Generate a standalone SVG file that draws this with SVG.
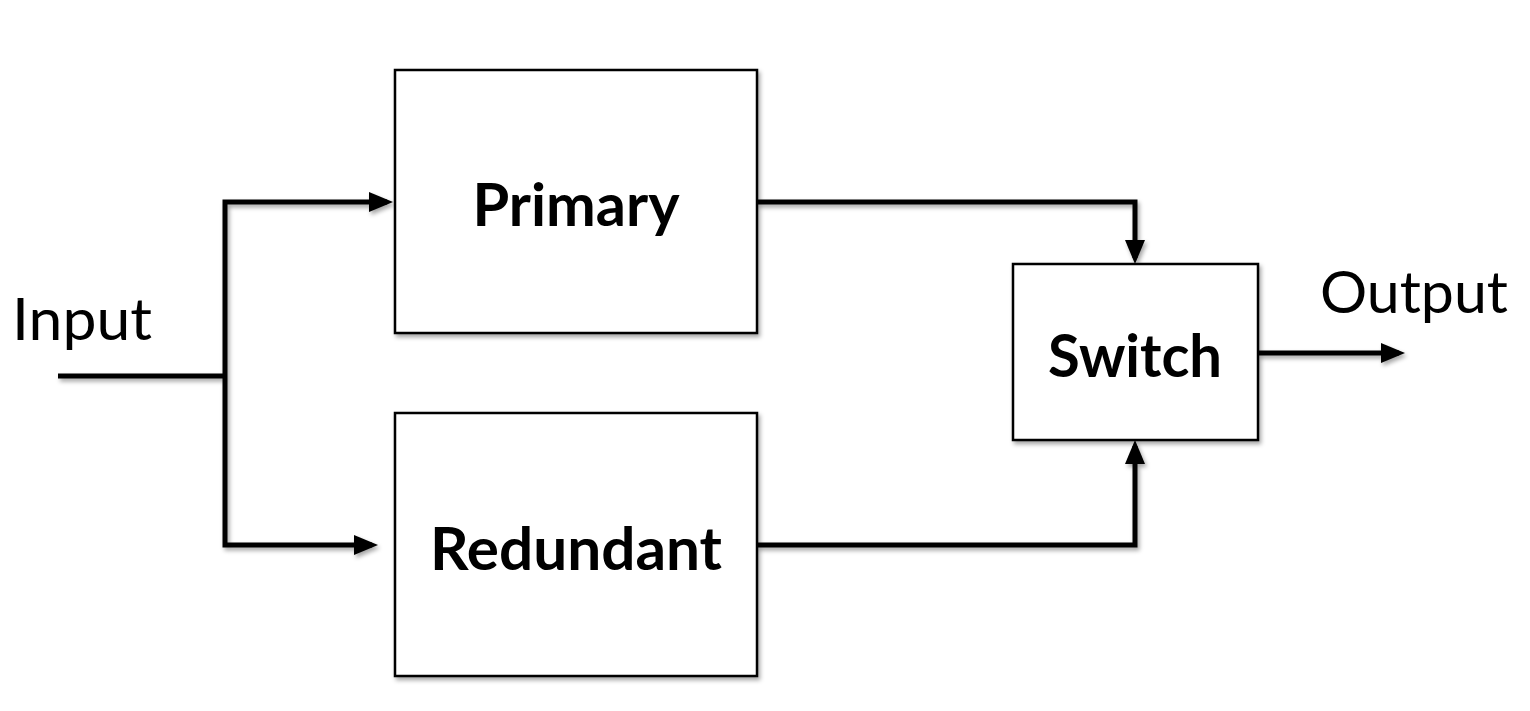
<svg xmlns="http://www.w3.org/2000/svg" width="1530" height="711" viewBox="0 0 1530 711">
<defs>
<filter id="sh" filterUnits="userSpaceOnUse" x="0" y="0" width="1530" height="711">
<feDropShadow dx="2" dy="3" stdDeviation="2" flood-color="#000" flood-opacity="0.35"/>
</filter>
<marker id="ah" markerUnits="userSpaceOnUse" markerWidth="25" markerHeight="22" viewBox="0 0 25 22" refX="18" refY="11" orient="auto">
<path d="M0,1 L24,11 L0,21 z" fill="#000"/>
</marker>
<style>
.box{fill:#fff;stroke:#000;stroke-width:2.5}
.lbl{font-family:Lato,"Open Sans","Liberation Sans",sans-serif;font-weight:bold;font-size:60px;fill:#000;text-anchor:middle}
.io{font-family:Lato,"Open Sans","Liberation Sans",sans-serif;font-size:58px;fill:#000}
.c{fill:none;stroke:#000;stroke-width:5;stroke-linejoin:miter}
.ca{fill:none;stroke:#000;stroke-width:5;marker-end:url(#ah)}
</style>
</defs>
<rect width="1530" height="711" fill="#fff"/>
<g id="connectors" filter="url(#sh)">
<path class="c" d="M58 376 H225"/>
<path class="ca" d="M225 376 V202 H387"/>
<path class="ca" d="M225 376 V545 H372"/>
<path class="ca" d="M757 202 H1135 V258"/>
<path class="ca" d="M757 545 H1135 V446"/>
<path class="ca" d="M1258 353 H1399"/>
</g>
<g id="primary" filter="url(#sh)">
<rect class="box" x="395" y="70" width="362" height="263"/>
<text class="lbl" x="576" y="226" textLength="207" lengthAdjust="spacingAndGlyphs">Primary</text>
</g>
<g id="redundant" filter="url(#sh)">
<rect class="box" x="395" y="413" width="362" height="263"/>
<text class="lbl" x="576" y="570" textLength="292" lengthAdjust="spacingAndGlyphs">Redundant</text>
</g>
<g id="switch" filter="url(#sh)">
<rect class="box" x="1013" y="264" width="245" height="176"/>
<text class="lbl" x="1135" y="377" textLength="174" lengthAdjust="spacingAndGlyphs">Switch</text>
</g>
<g id="input">
<text class="io" x="12" y="340" textLength="140" lengthAdjust="spacingAndGlyphs">Input</text>
</g>
<g id="output">
<text class="io" x="1320" y="313" textLength="188" lengthAdjust="spacingAndGlyphs">Output</text>
</g>
</svg>
